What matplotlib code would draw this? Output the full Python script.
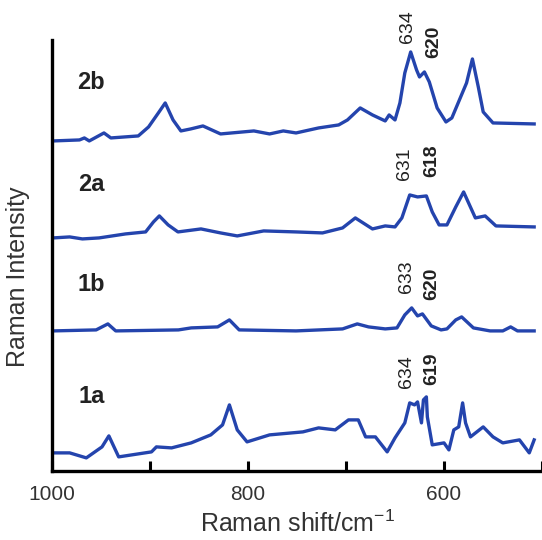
import matplotlib
matplotlib.use("Agg")
import matplotlib.pyplot as plt

plt.rcParams['font.family'] = ['Liberation Sans', 'DejaVu Sans']
plt.rcParams['mathtext.fontset'] = 'custom'
plt.rcParams['mathtext.rm'] = 'Liberation Sans'

# spectra (Raman shift in cm-1, intensity in arbitrary units, stacked)
shift_2b = [999, 972, 967, 962, 947, 940, 912, 901.5, 891.5, 884.5, 876.5, 868.5, 858.5, 846,
            828, 794, 778, 764, 751, 728, 707.5, 698.5, 685.5, 673, 660, 656, 650, 645, 640,
            634, 628, 625, 620, 615, 607, 598, 592, 583, 577, 571, 565, 560, 550, 508]
int_2b = [329, 330, 332, 329, 337, 332, 334, 343, 357, 367, 350, 339, 341, 344,
          336, 339, 336, 339, 337, 342, 345, 350, 362, 355, 349, 355, 350, 367, 397,
          418, 400, 393, 398, 388, 362, 348, 352, 373, 387, 411, 383, 358, 347, 346]

shift_2a = [999, 982, 969, 952, 925, 904.5, 896.5, 890.5, 881.5, 871.5, 848, 828, 811, 784,
            751, 724, 703.5, 690.5, 673, 660, 650, 643, 635, 627, 618, 612, 605, 597, 588,
            580, 568, 558, 547, 508]
int_2a = [232, 233, 231, 232, 236, 238, 248, 254, 245, 238, 241, 237, 234, 239,
          238, 237, 242, 252, 241, 244, 243, 252, 275, 273, 274, 258, 245, 245, 263,
          278, 252, 254, 244, 243]

shift_1b = [999, 955, 949, 943, 935, 871, 858, 831, 819, 809, 751, 703.5, 688.5, 677, 660,
            648, 640, 633, 627, 622, 613, 603, 597, 588, 582, 570, 553, 540, 532, 525, 508]
int_1b = [139, 140, 143, 146, 139, 140, 142, 143, 150, 140, 139, 141, 146, 143, 141,
          142, 155, 162, 154, 156, 144, 140, 141, 150, 153, 142, 139, 139, 143, 139, 139]

shift_1a = [999, 982, 965, 949, 942, 932, 898.5, 893.5, 878, 858, 838, 826, 819, 811, 801,
            778, 744, 728, 711, 697.5, 687.5, 680, 670, 658, 650, 640, 635, 630, 627, 623,
            621, 618, 617, 612, 600, 595, 590, 585, 581, 578, 573, 560, 550, 540, 523, 513, 508]
int_1a = [17, 17, 12, 23, 34, 13, 18, 23, 22, 27, 35, 45, 65, 40, 28,
          35, 38, 42, 40, 50, 50, 33, 33, 18, 32, 47, 67, 65, 68, 47,
          70, 73, 53, 25, 27, 20, 40, 43, 67, 47, 33, 43, 33, 27, 30, 17, 30]

sample_names = ['2b', '2a', '1b', '1a']
sample_label_y = [387, 285, 185, 73]

# peak annotations: (shift, text, bold, y of text start)
peak_shift = [637, 610, 640, 612, 638, 613, 638, 613]
peak_text = ['634', '620', '631', '618', '633', '620', '634', '619']
peak_bold = [False, True, False, True, False, True, False, True]
peak_y = [427, 412, 290, 293, 177, 170, 82, 85]

line_color = '#2444ad'

fig = plt.figure(figsize=(5.42, 5.40), dpi=100)
ax = fig.add_axes([0.096, 0.128, 0.904, 0.798])

for sx, sy in [(shift_2b, int_2b), (shift_2a, int_2a), (shift_1b, int_1b), (shift_1a, int_1a)]:
    ax.plot(sx, sy, color=line_color, lw=2.4, solid_joinstyle='round', clip_on=False)

for name, y in zip(sample_names, sample_label_y):
    ax.text(960, y, name, fontsize=17, fontweight='bold', ha='center', va='center', color='#222222')

for x, t, b, y in zip(peak_shift, peak_text, peak_bold, peak_y):
    ax.text(x, y, t, rotation=90, ha='center', va='bottom', fontsize=14,
            fontweight='bold' if b else 'normal', color='#222222', clip_on=False)

ax.set_xlim(1000, 507.5)
ax.set_ylim(-1, 430)
ax.set_xticks([1000, 800, 600])
ax.set_xticks([900, 700, 500], minor=True)
ax.set_yticks([])
ax.tick_params(axis='x', which='both', direction='in', length=7, width=2.2,
               labelsize=15, pad=10, colors='black')
ax.tick_params(axis='x', labelcolor='#333333')
for side in ['top', 'right']:
    ax.spines[side].set_visible(False)
for side in ['left', 'bottom']:
    ax.spines[side].set_linewidth(2.4)

ax.set_xlabel('Raman shift/cm$^{-1}$', fontsize=18, color='#333333', labelpad=5)
ax.set_ylabel('Raman Intensity', fontsize=18, color='#333333')
ax.yaxis.set_label_coords(-0.045, 0.45)

fig.savefig('out.png', dpi=100)
